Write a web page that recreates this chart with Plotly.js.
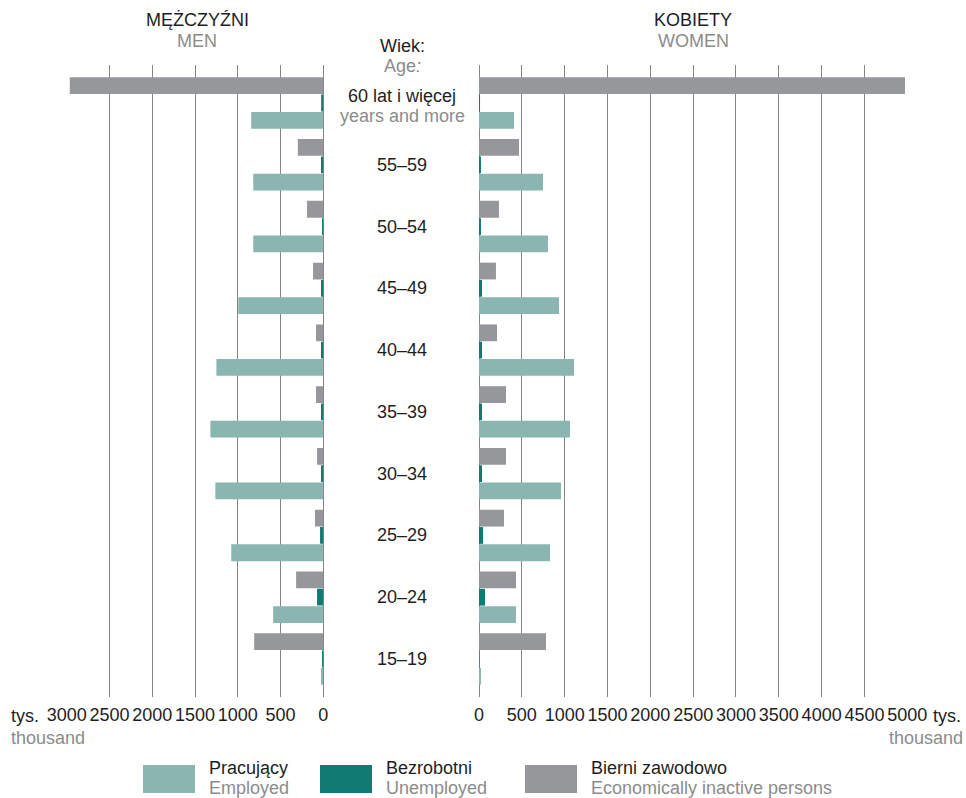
<!DOCTYPE html>
<html>
<head>
<meta charset="utf-8">
<script src="https://cdn.plot.ly/plotly-3.0.1.min.js"></script>
<style>html,body{margin:0;padding:0;background:#fff;}#chart{width:966px;height:798px;}</style>
</head>
<body>
<div id="chart"></div>
<script>
// Age groups (top to bottom)
const ages = ['60+', '55–59', '50–54', '45–49', '40–44', '35–39', '30–34', '25–29', '20–24', '15–19'];
const ageLabels = ['60 lat i więcej', '55–59', '50–54', '45–49', '40–44', '35–39', '30–34', '25–29', '20–24', '15–19'];
const ageLabelsEn = ['years and more', '', '', '', '', '', '', '', '', ''];

// Men, thousand persons
const menEmployed   = [843, 819, 819, 994, 1250, 1320, 1262, 1076, 586, 27];
const menUnemployed = [25, 27, 15, 27, 27, 27, 27, 38, 73, 15];
const menInactive   = [2964, 298, 190, 120, 85, 85, 73, 97, 318, 808];

// Women, thousand persons
const womenEmployed   = [409, 747, 805, 934, 1109, 1062, 957, 829, 432, 23];
const womenUnemployed = [12, 23, 23, 35, 35, 35, 35, 47, 70, 4];
const womenInactive   = [4973, 467, 233, 198, 210, 315, 315, 292, 432, 782];

const tickVals = [0, 500, 1000, 1500, 2000, 2500, 3000, 3500, 4000, 4500, 5000];

const C_EMP = '#8ab5b1', C_UNEMP = '#0f7b73', C_INACT = '#96979b';
const DARK = '#1e1e1e', GREY = '#8c8c8c';
const FONT = 'Liberation Sans, Arial, sans-serif';
const FS = 18;

function tr(x, color, name, xa) {
  return {type: 'bar', orientation: 'h', y: ages, x: x, name: name,
          marker: {color: color, line: {width: 0}}, xaxis: xa, yaxis: 'y',
          hoverinfo: 'x+name', showlegend: false};
}

const data = [
  tr(menInactive, C_INACT, 'Bierni zawodowo', 'x'),
  tr(menUnemployed, C_UNEMP, 'Bezrobotni', 'x'),
  tr(menEmployed, C_EMP, 'Pracujący', 'x'),
  tr(womenInactive, C_INACT, 'Bierni zawodowo', 'x2'),
  tr(womenUnemployed, C_UNEMP, 'Bezrobotni', 'x2'),
  tr(womenEmployed, C_EMP, 'Pracujący', 'x2')
];

const W = 966, H = 798, T = 65, B = 101;
const PH = H - T - B;
const px = x => x / W;
const py = y => (H - B - y) / PH;

const axisCommon = {
  showgrid: true, gridcolor: '#858585', gridwidth: 1,
  zeroline: true, zerolinecolor: '#858585', zerolinewidth: 1,
  showline: false, ticks: '', tickfont: {family: FONT, size: FS, color: DARK},
  ticklabelstandoff: 5, fixedrange: true
};

const layout = {
  width: W, height: H,
  margin: {l: 0, r: 0, t: T, b: B, pad: 0},
  paper_bgcolor: '#fff', plot_bgcolor: '#fff',
  font: {family: FONT, size: FS, color: DARK},
  barmode: 'group', bargap: 0.16, bargroupgap: 0.03,
  showlegend: false,
  xaxis: Object.assign({}, axisCommon, {
    domain: [px(66.7), px(323.3)], range: [3000, 0],
    tickvals: tickVals.filter(v => v <= 3000), anchor: 'y'
  }),
  xaxis2: Object.assign({}, axisCommon, {
    domain: [px(479), px(907.3)], range: [0, 5000],
    tickvals: tickVals, anchor: 'y'
  }),
  yaxis: {
    type: 'category', categoryorder: 'array', categoryarray: ages,
    range: [9.615, -0.615], showgrid: false, zeroline: false,
    showticklabels: false, ticks: '', showline: false, fixedrange: true
  },
  annotations: [],
  shapes: []
};

const A = layout.annotations;
function note(text, x, y, color, xanchor) {
  A.push({text: text, x: px(x), y: py(y), xref: 'paper', yref: 'paper',
          showarrow: false, xanchor: xanchor || 'center', yanchor: 'middle',
          font: {family: FONT, size: FS, color: color || DARK}});
}
note('MĘŻCZYŹNI', 197, 20);
note('MEN', 197, 41, GREY);
note('KOBIETY', 693, 20);
note('WOMEN', 693, 41, GREY);
note('Wiek:', 402, 46);
note('Age<i>:</i>', 402, 66, GREY);
note('tys.', 9, 716, DARK, 'left');
note('thousand', 9, 738, GREY, 'left');
note('tys.', 931, 716, DARK, 'left');
note('thousand', 965, 738, GREY, 'right');

// age labels in the centre column
ages.forEach((a, i) => {
  const two = ageLabelsEn[i] !== '';
  A.push({text: ageLabels[i], x: px(402), y: a, xref: 'paper', yref: 'y',
          yshift: two ? 7 : 0,
          showarrow: false, xanchor: 'center', yanchor: 'middle',
          font: {family: FONT, size: FS, color: DARK}});
  if (two) {
    A.push({text: ageLabelsEn[i], x: px(402), y: a, xref: 'paper', yref: 'y',
            yshift: -13,
            showarrow: false, xanchor: 'center', yanchor: 'middle',
            font: {family: FONT, size: FS, color: GREY}});
  }
});

// legend
const legendItems = [
  {color: C_EMP, pl: 'Pracujący', en: 'Employed', x: 143},
  {color: C_UNEMP, pl: 'Bezrobotni', en: 'Unemployed', x: 320},
  {color: C_INACT, pl: 'Bierni zawodowo', en: 'Economically inactive persons', x: 525}
];
legendItems.forEach(it => {
  layout.shapes.push({type: 'rect', xref: 'paper', yref: 'paper',
    x0: px(it.x), x1: px(it.x + 52), y0: py(793), y1: py(765),
    fillcolor: it.color, line: {width: 0}});
  note(it.pl, it.x + 64, 768, DARK, 'left');
  note(it.en, it.x + 64, 788, GREY, 'left');
});

Plotly.newPlot('chart', data, layout, {displayModeBar: false, staticPlot: true});
</script>
</body>
</html>
